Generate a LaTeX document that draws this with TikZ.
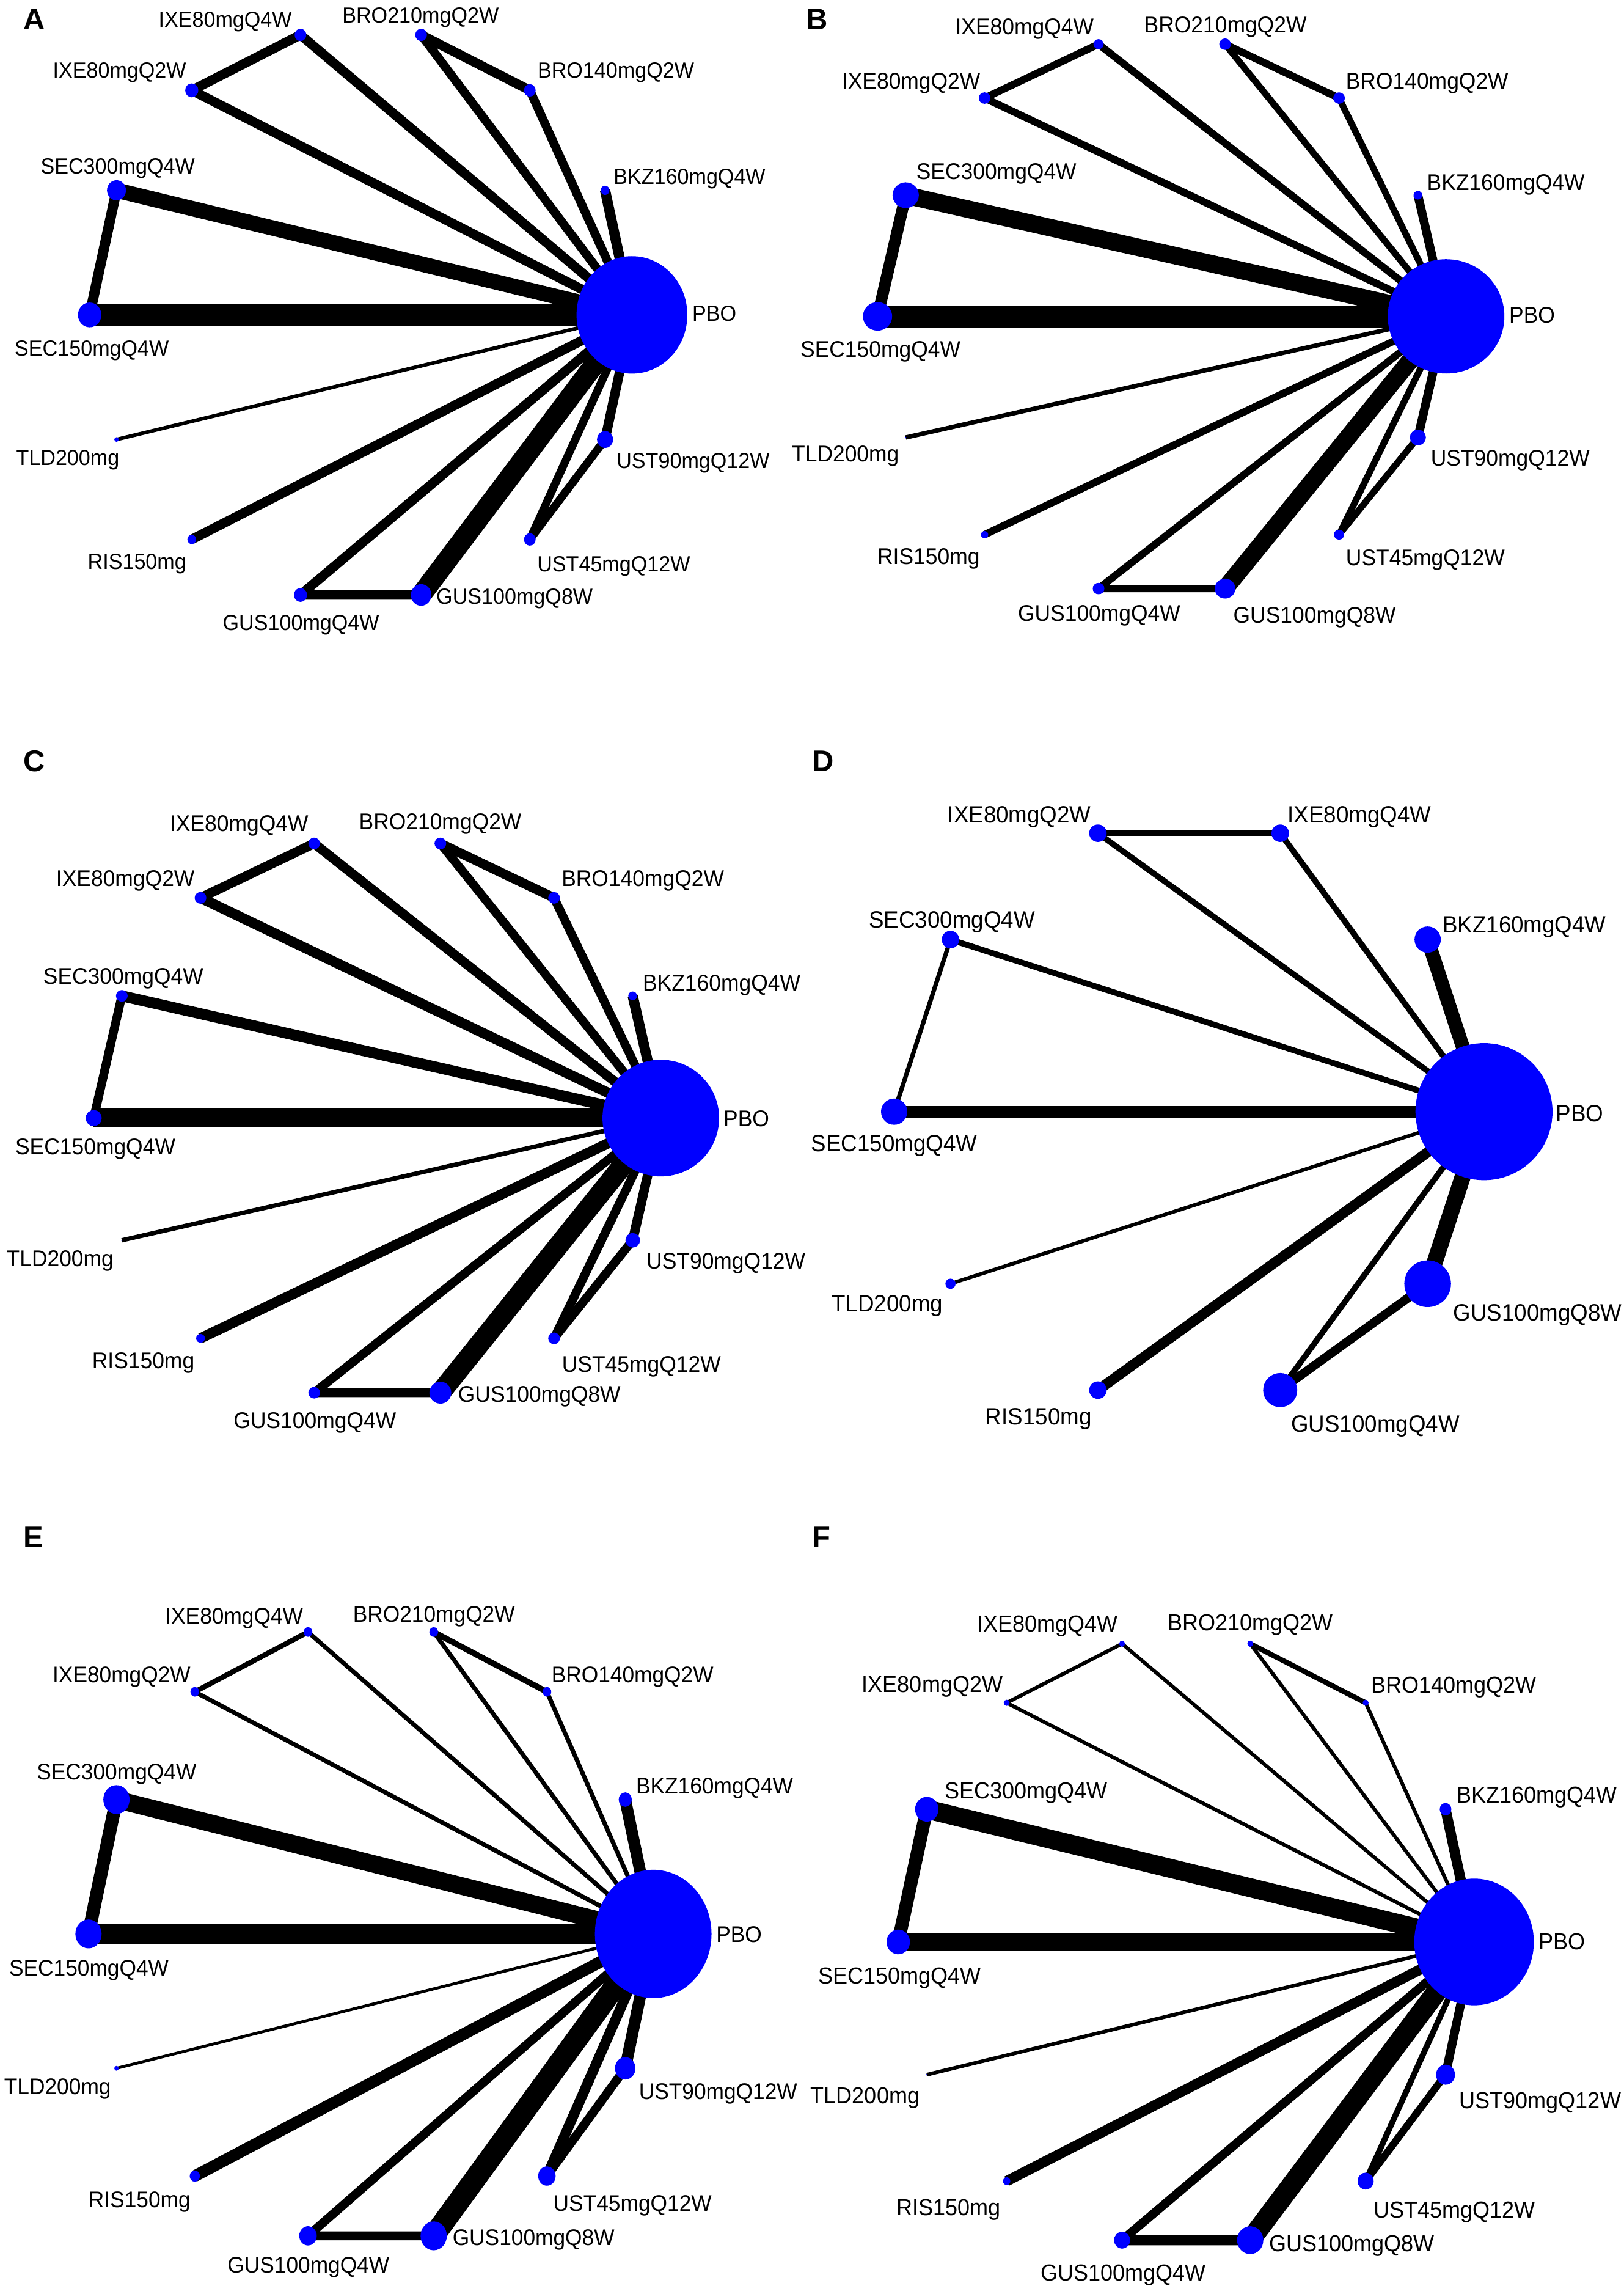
\documentclass[tikz,border=0pt]{standalone}
\usepackage{fontspec}
\setmainfont{Liberation Sans}
\usetikzlibrary{shapes.geometric,backgrounds}
\tikzset{
  vert/.style={ellipse, fill={rgb,255:red,0;green,0;blue,255}, draw=none, inner sep=0pt, outer sep=0pt},
  lab/.style={inner sep=0pt, outer sep=0pt, text=black},
  edge/.style={draw=black, line cap=butt},
  plet/.style={inner sep=0pt, anchor=base west, font=\fontsize{20.5}{20.5}\selectfont\bfseries}
}
% #1 letter, #2 cx, #3 cy, #4 rx, #5 ry, #6 n, #7 ratio, #8 font size, #9 nodes
\newcommand\netpanel[9]{%
  \foreach \nm/\kk/\rr/\lx/\ly/\txt in {#9}{%
    \pgfmathsetmacro\ang{360*\kk/#6}%
    \node[vert, minimum width={2*\rr}, minimum height={2*\rr*#7}] (#1-\nm) at ({#2+#4*cos(\ang)},{#3-#5*sin(\ang)}) {};
    \node[lab, font=\fontsize{#8}{#8}\selectfont, anchor=base] (#1-\nm-l) at (\lx,{\ly+0.37*#8}) {\scalebox{1}[1.05]{\txt}};
  }}
\newcommand\netedges[2]{%
  \begin{pgfonlayer}{background}
  \foreach \ea/\eb/\ew in {#2}{\draw[edge, line width=\ew pt] (#1-\ea.center) -- (#1-\eb.center);}
  \end{pgfonlayer}}
\begin{document}
\begin{tikzpicture}[x=1pt,y=-1pt]
\useasboundingbox (0,0) rectangle (1114,1568);
\begin{pgfonlayer}{background}
\fill[white] (0,0) rectangle (1114,1568);
\end{pgfonlayer}

% ---------------- Panel A ----------------
\node[plet] (lA) at (16,20.3) {A};
\netpanel{A}{247.5}{216}{186}{197}{14}{1.06}{14.3}{
 PBO/0/38/490/215/PBO, BKZ/1/3/473/121/BKZ160mgQ4W, BRO140/2/4/422.5/48/BRO140mgQ2W,
 BRO210/3/4/288.5/10.3/BRO210mgQ2W, IXE4/4/4/154.5/13.3/IXE80mgQ4W, IXE2/5/4.5/82/48/IXE80mgQ2W,
 SEC300/6/6.5/80.75/114/SEC300mgQ4W, SEC150/7/8/63/239/SEC150mgQ4W, TLD/8/1.5/46.5/314/TLD200mg,
 RIS/9/3/94/385/RIS150mg, GUS4/10/4.5/206.5/427/GUS100mgQ4W, GUS8/11/7/353/409/GUS100mgQ8W,
 UST45/12/4/421/387/UST45mgQ12W, UST90/13/5.5/475.5/316/UST90mgQ12W}
\netedges{A}{SEC150/PBO/15, SEC300/PBO/10.5, SEC150/SEC300/7, IXE2/PBO/6.5, IXE4/PBO/6.5, IXE2/IXE4/6.5,
 BRO210/PBO/6, BRO140/PBO/6, BRO210/BRO140/6.5, BKZ/PBO/7, TLD/PBO/2.5, RIS/PBO/6.5, GUS4/PBO/6.5,
 GUS8/PBO/14, GUS4/GUS8/6.5, UST45/PBO/5.5, UST90/PBO/6.5, UST45/UST90/5.5}

% ---------------- Panel B ----------------
\node[plet] (lB) at (553,20.3) {B};
\netpanel{B}{797}{217}{195}{191.5}{14}{0.98}{14.85}{
 PBO/0/40/1051/216/PBO, BKZ/1/3/1033/125/BKZ160mgQ4W, BRO140/2/4/979/55.3/BRO140mgQ2W,
 BRO210/3/4/840.6/16.8/BRO210mgQ2W, IXE4/4/3.5/702.8/18.2/IXE80mgQ4W, IXE2/5/4/625/55.3/IXE80mgQ2W,
 SEC300/6/9/683.5/117.7/SEC300mgQ4W, SEC150/7/10/604/239.5/SEC150mgQ4W, TLD/8/0.5/580/311/TLD200mg,
 RIS/9/2.5/637/381.5/RIS150mg, GUS4/10/4/754/420.6/GUS100mgQ4W, GUS8/11/7/901.8/422/GUS100mgQ8W,
 UST45/12/3.5/977.8/382.4/UST45mgQ12W, UST90/13/5.5/1036/314/UST90mgQ12W}
\netedges{B}{SEC150/PBO/15, SEC300/PBO/12, SEC150/SEC300/8, IXE2/PBO/5, IXE4/PBO/5, IXE2/IXE4/5,
 BRO210/PBO/4.5, BRO140/PBO/4.5, BRO210/BRO140/5, BKZ/PBO/6, TLD/PBO/3, RIS/PBO/5, GUS4/PBO/5,
 GUS8/PBO/12, GUS4/GUS8/5, UST45/PBO/4.5, UST90/PBO/6, UST45/UST90/4.5}

% ---------------- Panel C ----------------
\node[plet] (lC) at (16,529) {C};
\netpanel{C}{258.8}{766.9}{194.5}{193.2}{14}{1.0}{14.85}{
 PBO/0/40/512/767/PBO, BKZ/1/3/495/674/BKZ160mgQ4W, BRO140/2/4/441/602.6/BRO140mgQ2W,
 BRO210/3/4/302/563.5/BRO210mgQ2W, IXE4/4/4/164/564.7/IXE80mgQ4W, IXE2/5/4/86/602.6/IXE80mgQ2W,
 SEC300/6/4/84.6/669.4/SEC300mgQ4W, SEC150/7/5.5/65.4/786.5/SEC150mgQ4W, TLD/8/0.5/41.2/863/TLD200mg,
 RIS/9/3/98.3/933/RIS150mg, GUS4/10/4/216/974.2/GUS100mgQ4W, GUS8/11/7.5/370/956/GUS100mgQ8W,
 UST45/12/4/440/935.7/UST45mgQ12W, UST90/13/5/498/865/UST90mgQ12W}
\netedges{C}{SEC150/PBO/13, SEC300/PBO/7.5, SEC150/SEC300/6, IXE2/PBO/7, IXE4/PBO/6.5, IXE2/IXE4/6.5,
 BRO210/PBO/6, BRO140/PBO/6, BRO210/BRO140/6.5, BKZ/PBO/7, TLD/PBO/3, RIS/PBO/7, GUS4/PBO/6,
 GUS8/PBO/14, GUS4/GUS8/6, UST45/PBO/6, UST90/PBO/6.5, UST45/UST90/6}

% ---------------- Panel D ----------------
\node[plet] (lD) at (557,529) {D};
\netpanel{D}{815.7}{762.5}{202.3}{200.8}{10}{1.0}{15.4}{
 PBO/0/47/1083.7/763.5/PBO, BKZ/1/9/1045.7/634/BKZ160mgQ4W, IXE4/2/6/932.5/558.6/IXE80mgQ4W,
 IXE2/3/6/699.2/558.6/IXE80mgQ2W, SEC300/4/6/653/630.8/SEC300mgQ4W, SEC150/5/9/613.5/784/SEC150mgQ4W,
 TLD/6/3.5/608.7/894/TLD200mg, RIS/7/6/712.4/971.6/RIS150mg, GUS4/8/11.7/943.5/976.4/GUS100mgQ4W,
 GUS8/9/16/1054.8/900.4/GUS100mgQ8W}
\netedges{D}{SEC150/PBO/8, SEC300/PBO/4, SEC150/SEC300/3, IXE2/IXE4/4, IXE2/PBO/4, IXE4/PBO/4,
 BKZ/PBO/9.5, TLD/PBO/2.5, RIS/PBO/7, GUS4/PBO/4, GUS8/PBO/11, GUS4/GUS8/6}

% ---------------- Panel E ----------------
\node[plet] (lE) at (16,1061.5) {E};
\netpanel{E}{254.4}{1326.5}{193.7}{212.4}{14}{1.1}{14.8}{
 PBO/0/40/507/1326.9/PBO, BKZ/1/4.5/490.2/1225/BKZ160mgQ4W, BRO140/2/3/433.9/1148.8/BRO140mgQ2W,
 BRO210/3/3/297.7/1107.3/BRO210mgQ2W, IXE4/4/3/160.6/1108.4/IXE80mgQ4W, IXE2/5/3/83.4/1148.8/IXE80mgQ2W,
 SEC300/6/9/80/1215.4/SEC300mgQ4W, SEC150/7/9/61/1350/SEC150mgQ4W, TLD/8/1.5/39.5/1431/TLD200mg,
 RIS/9/3.5/95.7/1508.8/RIS150mg, GUS4/10/6/211.6/1553.7/GUS100mgQ4W, GUS8/11/9/366/1534.7/GUS100mgQ8W,
 UST45/12/6/433.9/1511.2/UST45mgQ12W, UST90/13/7/492.6/1434.6/UST90mgQ12W}
\netedges{E}{SEC150/PBO/14, SEC300/PBO/12, SEC150/SEC300/9, IXE2/PBO/3, IXE4/PBO/3, IXE2/IXE4/3.5,
 BRO210/PBO/3, BRO140/PBO/3, BRO210/BRO140/4, BKZ/PBO/8, TLD/PBO/2, RIS/PBO/8, GUS4/PBO/6,
 GUS8/PBO/15, GUS4/GUS8/6, UST45/PBO/7, UST90/PBO/8, UST45/UST90/6}

% ---------------- Panel F ----------------
\node[plet] (lF) at (557,1061.5) {F};
\netpanel{F}{813.7}{1332}{197.5}{209.8}{14}{1.06}{15.1}{
 PBO/0/41/1071.5/1331.7/PBO, BKZ/1/4/1054.4/1231/BKZ160mgQ4W, BRO140/2/2/997.3/1155.7/BRO140mgQ2W,
 BRO210/3/2/857.8/1113/BRO210mgQ2W, IXE4/4/2/718.6/1113.6/IXE80mgQ4W, IXE2/5/2/639.6/1155/IXE80mgQ2W,
 SEC300/6/8/704/1228.2/SEC300mgQ4W, SEC150/7/8/617.1/1355.2/SEC150mgQ4W, TLD/8/0.5/593.5/1437.4/TLD200mg,
 RIS/9/2.5/650.8/1514/RIS150mg, GUS4/10/5.5/770.6/1558.9/GUS100mgQ4W, GUS8/11/9/927.4/1538.8/GUS100mgQ8W,
 UST45/12/5.5/997.7/1515.7/UST45mgQ12W, UST90/13/6.5/1056.6/1440.8/UST90mgQ12W}
\netedges{F}{SEC150/PBO/12, SEC300/PBO/13, SEC150/SEC300/9, IXE2/PBO/2.5, IXE4/PBO/2.5, IXE2/IXE4/2.5,
 BRO210/PBO/2.5, BRO140/PBO/2.5, BRO210/BRO140/3.5, BKZ/PBO/7, TLD/PBO/2.5, RIS/PBO/7, GUS4/PBO/6,
 GUS8/PBO/14, GUS4/GUS8/7, UST45/PBO/4, UST90/PBO/6, UST45/UST90/5}
\end{tikzpicture}
\end{document}
